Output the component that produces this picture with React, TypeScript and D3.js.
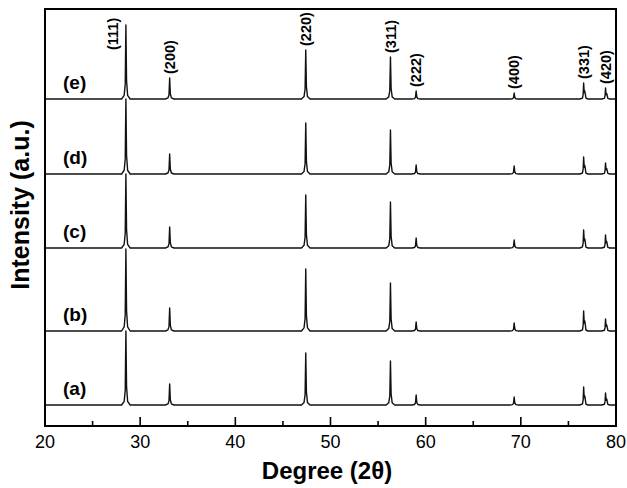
import React, { useEffect, useRef } from "react";
import * as d3 from "d3";

// peak positions (2theta) and hkl labels
const peakPos = [28.5, 33.1, 47.4, 56.3, 59.0, 69.3, 76.6, 78.9];
const peakHkl = ["(111)", "(200)", "(220)", "(311)", "(222)", "(400)", "(331)", "(420)"];

// samples, bottom to top, with baseline offsets (a.u.)
const samples = ["(a)", "(b)", "(c)", "(d)", "(e)"];
const offsets = [21, 95, 178, 252, 327];

// peak heights per sample (a.u.)
const heightsA = [74, 21, 52, 44, 10, 8, 18, 12];
const heightsB = [82, 23, 62, 48, 9, 8, 20, 12];
const heightsC = [74, 21, 53, 46, 10, 8, 18, 13];
const heightsD = [75, 20, 51, 44, 9, 8, 17, 11];
const heightsE = [74, 21, 49, 42, 8, 6, 16, 11];
const allHeights = [heightsA, heightsB, heightsC, heightsD, heightsE];

const xTicks = [20, 30, 40, 50, 60, 70, 80];
const xMinor = [25, 35, 45, 55, 65, 75];

const W = 627, H = 488;
const m = { left: 45, right: 11, top: 9, bottom: 62 };
const FONT = "'Liberation Sans', Arial, Helvetica, sans-serif";

// line shape of one reflection: [d2theta, fraction of height]
const profile = [[-0.45, 0], [-0.18, 0.05], [-0.07, 0.2], [0, 1], [0.07, 0.25], [0.18, 0.05], [0.45, 0]];
const doublet = [[-0.4, 0], [-0.12, 0.06], [-0.05, 0.3], [0, 1], [0.06, 0.4], [0.12, 0.5], [0.18, 0.3], [0.24, 0.05], [0.45, 0]];

export default function App() {
  const ref = useRef<SVGSVGElement>(null);

  useEffect(() => {
    const svg = d3.select(ref.current);
    svg.selectAll("*").remove();

    const x = d3.scaleLinear().domain([20, 80]).range([m.left, W - m.right]);
    const y = d3.scaleLinear().domain([0, H - m.top - m.bottom]).range([H - m.bottom, m.top]);

    const line = d3.line<[number, number]>().x(d => x(d[0])).y(d => y(d[1]));

    samples.forEach((s, i) => {
      const off = offsets[i];
      const pts: [number, number][] = [[20, off]];
      peakPos.forEach((p, k) => {
        const h = allHeights[i][k];
        const shape = p > 75 ? doublet : profile;
        shape.forEach(([dx, f]) => pts.push([p + dx, off + f * h]));
      });
      pts.push([80, off]);

      svg.append("path")
        .attr("d", line(pts))
        .attr("fill", "none")
        .attr("stroke", "#111")
        .attr("stroke-width", 1.4)
        .attr("stroke-linejoin", "round");

      svg.append("text")
        .attr("x", 63)
        .attr("y", y(off) - 10)
        .attr("font-family", FONT)
        .attr("font-weight", "bold")
        .attr("font-size", 19)
        .text(s);
    });

    // hkl labels above the top pattern
    const top = samples.length - 1;
    peakPos.forEach((p, k) => {
      const peakTop = y(offsets[top] + allHeights[top][k]);
      let px = x(p), py = peakTop - 4;
      if (py < 45) { px -= 13; py = 50; }
      svg.append("text")
        .attr("transform", `translate(${px},${py}) rotate(-90)`)
        .attr("dy", "0.36em")
        .attr("font-family", FONT)
        .attr("font-weight", "bold")
        .attr("font-size", 14.5)
        .text(peakHkl[k]);
    });

    // frame
    svg.append("rect")
      .attr("x", m.left).attr("y", m.top)
      .attr("width", W - m.left - m.right).attr("height", H - m.top - m.bottom)
      .attr("fill", "none").attr("stroke", "#000").attr("stroke-width", 2);

    // x axis ticks (inward)
    const yb = H - m.bottom;
    svg.selectAll(".major").data(xTicks.slice(1, -1)).join("line")
      .attr("x1", d => x(d)).attr("x2", d => x(d))
      .attr("y1", yb).attr("y2", yb - 9)
      .attr("stroke", "#000").attr("stroke-width", 1.6);
    svg.selectAll(".minor").data(xMinor).join("line")
      .attr("x1", d => x(d)).attr("x2", d => x(d))
      .attr("y1", yb).attr("y2", yb - 5)
      .attr("stroke", "#000").attr("stroke-width", 1.6);
    svg.selectAll(".tl").data(xTicks).join("text")
      .attr("x", d => x(d)).attr("y", yb + 22)
      .attr("text-anchor", "middle")
      .attr("font-family", FONT).attr("font-size", 18)
      .text(d => d);

    svg.append("text")
      .attr("x", 327).attr("y", 479)
      .attr("text-anchor", "middle")
      .attr("font-family", FONT).attr("font-weight", "bold").attr("font-size", 24)
      .text("Degree (2θ)");

    svg.append("text")
      .attr("transform", `translate(29,205) rotate(-90)`)
      .attr("text-anchor", "middle")
      .attr("font-family", FONT).attr("font-weight", "bold").attr("font-size", 25)
      .text("Intensity (a.u.)");
  }, []);

  return (
    <svg ref={ref} width={W} height={H}
      style={{ position: "absolute", left: 0, top: 0, background: "#fff" }} />
  );
}
